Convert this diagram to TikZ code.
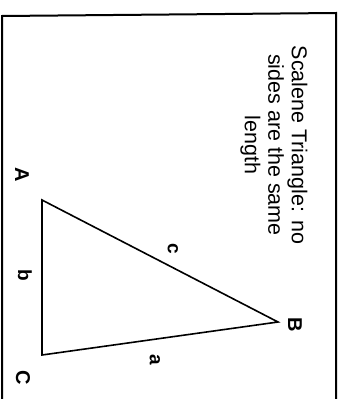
\documentclass[tikz,border=0pt]{standalone}
\usepackage{fontspec}
\setmainfont{Liberation Sans}
\begin{document}
\begin{tikzpicture}[x=1pt,y=-1pt,
  frame/.style={line width=2pt,line join=miter},
  side/.style={line width=1.6pt,line join=miter},
  title/.style={rotate=-90,align=center,inner sep=0pt,font=\fontsize{21.5}{23.5}\selectfont},
  vlabel/.style={rotate=-90,inner sep=0pt,font=\fontsize{20}{20}\selectfont\bfseries},
  slabel/.style={rotate=-90,inner sep=0pt,font=\fontsize{19}{19}\selectfont\bfseries}]
\useasboundingbox (0,0) rectangle (342,399);
\fill[white] (0,0) rectangle (342,399);
\draw[frame] (2,399) -- (2,16) -- (336,13) -- (336,399);
\coordinate (A) at (42,200);
\coordinate (B) at (278,322);
\coordinate (C) at (42,355);
\draw[side] (A) -- (B) -- (C) -- cycle;
\node[title] (t) at (274,145) {Scalene Triangle: no\\sides are the same\\length};
\node[vlabel] (lA) at (22,175) {A};
\node[vlabel] (lB) at (295,325) {B};
\node[vlabel] (lC) at (23,378) {C};
\node[slabel] (la) at (155,360) {a};
\node[slabel] (lb) at (25,275) {b};
\node[slabel] (lc) at (173,249) {c};
\end{tikzpicture}
\end{document}
